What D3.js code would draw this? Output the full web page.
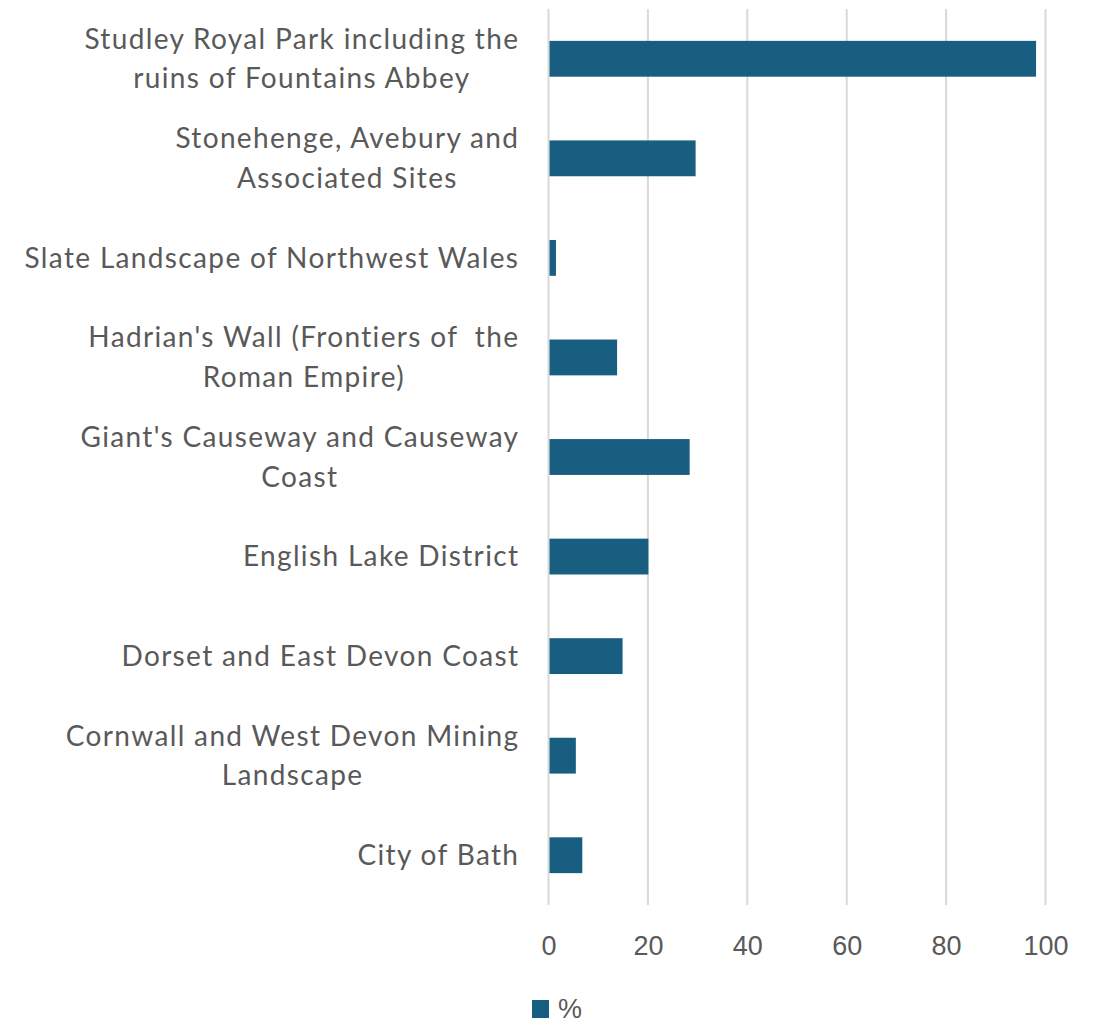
<!DOCTYPE html>
<html>
<head>
<meta charset="utf-8">
<script src="https://cdn.jsdelivr.net/npm/d3@7"></script>
<style>
  html, body { margin: 0; padding: 0; background: #fff; }
  svg { display: block; }
</style>
</head>
<body>
<svg id="chart" width="1097" height="1019"></svg>
<script>
// ---- data ----
const categories = [
  "Studley Royal Park including the ruins of Fountains Abbey",
  "Stonehenge, Avebury and Associated Sites",
  "Slate Landscape of Northwest Wales",
  "Hadrian's Wall (Frontiers of  the Roman Empire)",
  "Giant's Causeway and Causeway Coast",
  "English Lake District",
  "Dorset and East Devon Coast",
  "Cornwall and West Devon Mining Landscape",
  "City of Bath"
];
const labelLines = [
  ["Studley Royal Park including the", "ruins of Fountains Abbey"],
  ["Stonehenge, Avebury and", "Associated Sites"],
  ["Slate Landscape of Northwest Wales"],
  ["Hadrian's Wall (Frontiers of  the", "Roman Empire)"],
  ["Giant's Causeway and Causeway", "Coast"],
  ["English Lake District"],
  ["Dorset and East Devon Coast"],
  ["Cornwall and West Devon Mining", "Landscape"],
  ["City of Bath"]
];
const values = [98.1, 29.6, 1.5, 13.8, 28.4, 20.1, 14.9, 5.5, 6.8];
const xTicks = [0, 20, 40, 60, 80, 100];
const seriesName = "%";

// ---- layout ----
const svg = d3.select("#chart");
const barColor = "#175e80";
const textColor = "#595959";
const gridColor = "#d9d9d9";

const x = d3.scaleLinear().domain([0, 100]).range([548.5, 1045.5]);
const y = d3.scaleBand().domain(categories).range([9, 905])
  .paddingInner(0.64).paddingOuter(0.32);

// gridlines
svg.append("g").selectAll("line").data(xTicks).join("line")
  .attr("x1", d => x(d)).attr("x2", d => x(d))
  .attr("y1", 9).attr("y2", 905)
  .attr("stroke", gridColor).attr("stroke-width", 2);

// bars
svg.append("g").selectAll("rect").data(values).join("rect")
  .attr("x", x(0) + 1)
  .attr("y", (d, i) => y(categories[i]))
  .attr("width", d => Math.max(0, x(d) - x(0) - 1))
  .attr("height", y.bandwidth())
  .attr("fill", barColor);

// x axis tick labels
const xAxis = d3.axisBottom(x).tickValues(xTicks).tickSize(0).tickPadding(0);
const gx = svg.append("g").attr("transform", "translate(0,945)").call(xAxis);
gx.select(".domain").remove();
gx.attr("font-family", "'Liberation Sans', Arial, sans-serif").attr("font-size", 27);
gx.selectAll("text")
  .attr("font-family", "'Liberation Sans', Arial, sans-serif")
  .attr("font-size", 27)
  .attr("fill", textColor)
  .attr("y", 0)
  .attr("dy", "0.36em");

// category labels
const labelFont = "Lato, 'Open Sans', sans-serif";
const labelSize = 28;
const letterSp = 1.35;
const lineH = 39.5;
const rightEdge = 518 + letterSp;
const gl = svg.append("g");
categories.forEach((c, i) => {
  const lines = labelLines[i];
  const cy = y(c) + y.bandwidth() / 2;
  const g = gl.append("g");
  const texts = lines.map((t, j) => g.append("text")
    .attr("font-family", labelFont)
    .attr("font-size", labelSize)
    .attr("letter-spacing", letterSp)
    .attr("fill", textColor)
    .attr("xml:space", "preserve")
    .style("white-space", "pre")
    .attr("y", cy + (j - (lines.length - 1) / 2) * lineH)
    .attr("dy", "0.35em")
    .text(t));
  const widths = texts.map(t => t.node().getComputedTextLength());
  const maxW = d3.max(widths);
  const center = rightEdge - maxW / 2;
  texts.forEach(t => t.attr("x", center).attr("text-anchor", "middle"));
});

// legend
const lg = svg.append("g").attr("transform", "translate(532,1000)");
lg.append("rect").attr("width", 17).attr("height", 18).attr("fill", barColor);
lg.append("text").attr("x", 26).attr("y", 18)
  .attr("font-family", "'Liberation Sans', Arial, sans-serif")
  .attr("font-size", 27).attr("fill", textColor).text(seriesName);
</script>
</body>
</html>
